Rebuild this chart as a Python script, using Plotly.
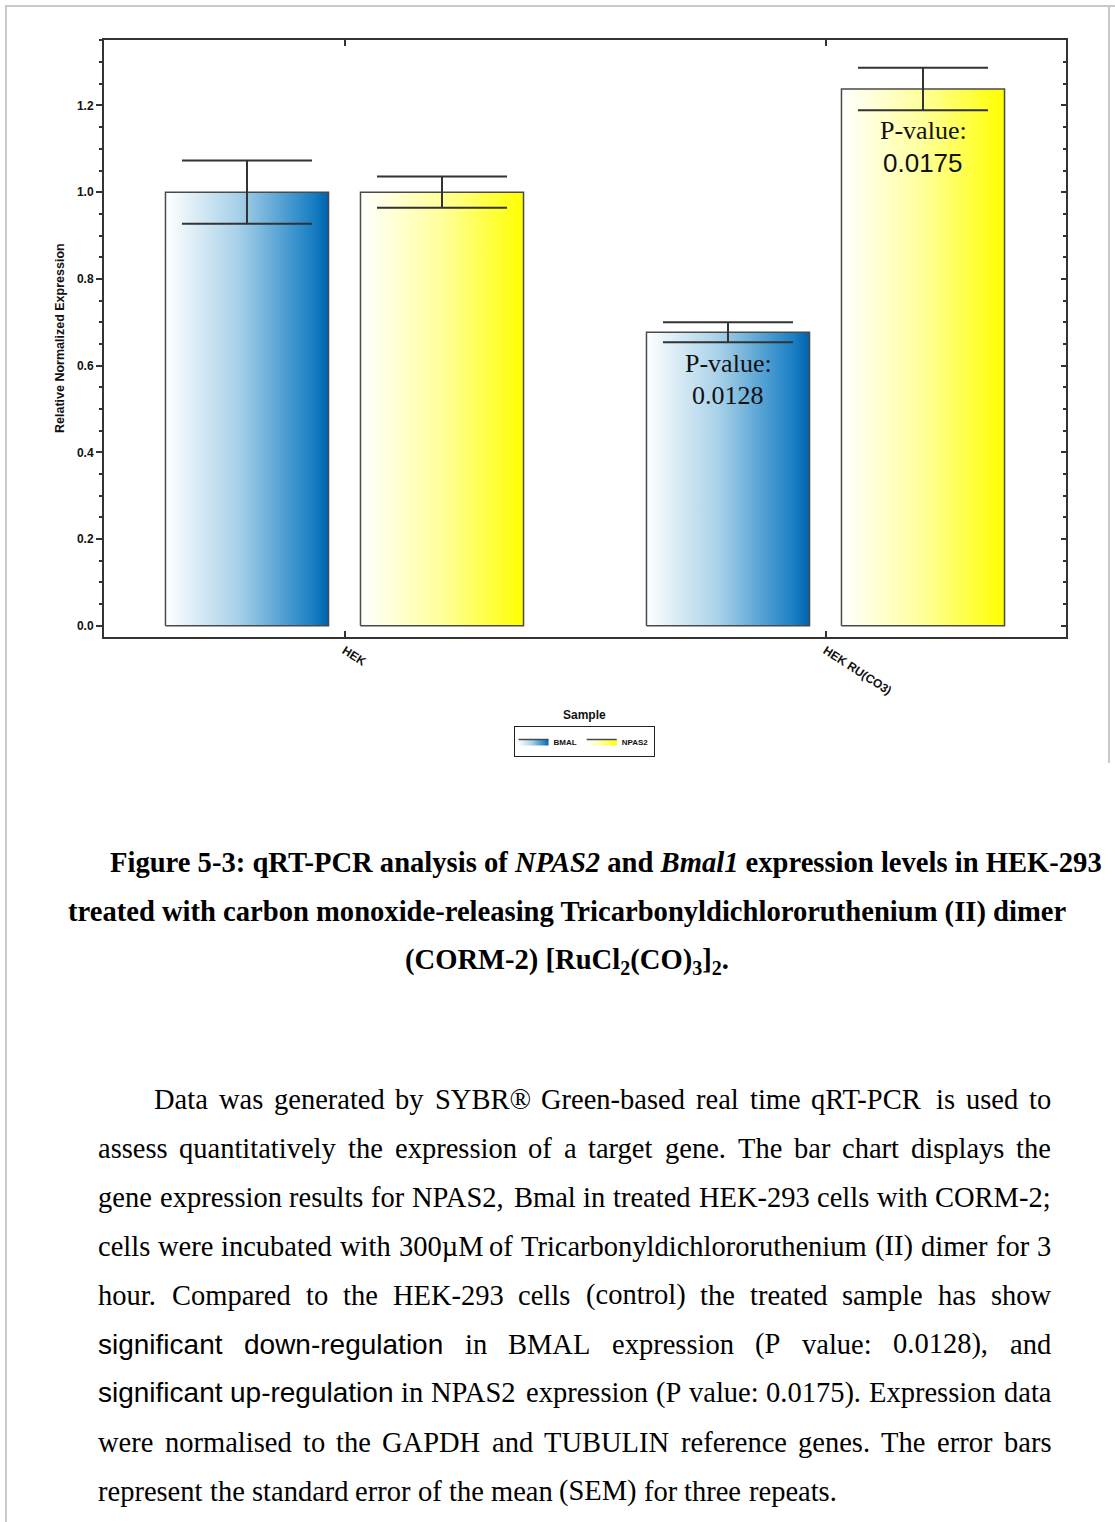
import plotly.graph_objects as go

# ---------------- data ----------------
categories = ["HEK", "HEK RU(CO3)"]
series_names = ["BMAL", "NPAS2"]
bmal_values = [1.0, 0.677]
bmal_sem = [0.073, 0.023]
npas2_values = [1.0, 1.238]
npas2_sem = [0.036, 0.049]
bmal_pvalues = [None, "0.0128"]
npas2_pvalues = [None, "0.0175"]
y_tick_values = [0.0, 0.2, 0.4, 0.6, 0.8, 1.0, 1.2]

# ---------------- page geometry (px) ----------------
W, H = 1115, 1522
PLOT_L, PLOT_R, PLOT_T, PLOT_B = 104, 1066, 40, 637


def px_x(px):
    return (px - PLOT_L) / (PLOT_R - PLOT_L)


def px_y(py):
    return (PLOT_B - py) / (PLOT_B - PLOT_T)


GROUP_OFFSET = 0.2027   # distance of each bar centre from its category
BAR_HALF = 0.1695       # half bar width in category units

series = [
    dict(name="BMAL", values=bmal_values, sem=bmal_sem, pv=bmal_pvalues, off=-GROUP_OFFSET,
         scale=[[0, "#ffffff"], [0.45, "#a6d0e8"], [0.9, "#1a80c4"], [1, "#0062ae"]],
         pv_font="Liberation Serif", pv_shift=(-31, -63)),
    dict(name="NPAS2", values=npas2_values, sem=npas2_sem, pv=npas2_pvalues, off=GROUP_OFFSET,
         scale=[[0, "#ffffff"], [0.5, "#ffff9a"], [1, "#ffff00"]],
         pv_font="Liberation Sans", pv_shift=(-42, -74)),
]

fig = go.Figure()

annotations = []

for s in series:
    for i, v in enumerate(s["values"]):
        xc = i + s["off"]
        x0, x1 = xc - BAR_HALF, xc + BAR_HALF
        fig.add_trace(go.Scatter(
            x=[x0, x0, x1, x1, x0], y=[0, v, v, 0, 0],
            mode="lines", fill="toself",
            fillgradient=dict(type="horizontal", colorscale=s["scale"]),
            line=dict(color="#4a4a4a", width=1.5),
            name=s["name"], legendgroup=s["name"], showlegend=(i == 0),
            hoverinfo="skip",
        ))
    # error bars (SEM)
    fig.add_trace(go.Scatter(
        x=[i + s["off"] for i in range(len(categories))], y=s["values"],
        mode="markers", marker=dict(size=1, color="rgba(0,0,0,0)"),
        error_y=dict(type="data", array=s["sem"], color="#333333", thickness=2, width=65),
        showlegend=False, hoverinfo="skip",
    ))
    # p-value labels inside the bars
    for i, pv in enumerate(s["pv"]):
        if pv is None:
            continue
        xc = i + s["off"]
        annotations.append(dict(x=xc, y=s["values"][i], xref="x", yref="y", text="P-value:",
                                showarrow=False, xanchor="center", yanchor="middle",
                                yshift=s["pv_shift"][0],
                                font=dict(family="Liberation Serif", size=26, color="#111")))
        annotations.append(dict(x=xc, y=s["values"][i], xref="x", yref="y", text=pv,
                                showarrow=False, xanchor="center", yanchor="middle",
                                yshift=s["pv_shift"][1],
                                font=dict(family=s["pv_font"], size=26, color="#111")))

# right-hand axis carrying the inward tick marks
fig.add_trace(go.Scatter(x=[0], y=[0], yaxis="y2", mode="markers",
                         marker=dict(size=1, color="rgba(0,0,0,0)"),
                         showlegend=False, hoverinfo="skip"))

y_range = [-0.026, 1.351]

fig.update_layout(
    width=W, height=H,
    margin=dict(l=PLOT_L, r=W - PLOT_R, t=PLOT_T, b=H - PLOT_B, pad=0),
    paper_bgcolor="white", plot_bgcolor="white",
    font=dict(family="Liberation Sans", color="#111"),
    xaxis=dict(range=[-0.5, 1.5], tickvals=list(range(len(categories))), ticktext=categories,
               tickangle=33, tickfont=dict(size=12, weight="bold", color="#111"),
               ticks="inside", ticklen=6, tickcolor="#333", tickwidth=1.5,
               showline=True, linecolor="#333", linewidth=2, mirror="ticks",
               showgrid=False, zeroline=False),
    yaxis=dict(range=y_range, tickvals=y_tick_values, tickformat=".1f",
               tickfont=dict(size=12, weight="bold", color="#111"),
               ticks="outside", ticklen=6, tickcolor="#333", tickwidth=1.5,
               minor=dict(dtick=0.05, tick0=0, ticks="outside", ticklen=3, tickcolor="#333", tickwidth=2),
               showline=True, linecolor="#333", linewidth=2, mirror=True,
               showgrid=False, zeroline=False),
    yaxis2=dict(range=y_range, overlaying="y", side="right", tickvals=y_tick_values,
                showticklabels=False, ticks="inside", ticklen=5, tickcolor="#333", tickwidth=1.5,
                minor=dict(dtick=0.05, tick0=0, ticks="inside", ticklen=3, tickcolor="#333", tickwidth=2),
                showline=False, showgrid=False, zeroline=False),
    legend=dict(orientation="h", x=px_x(584), xanchor="center", y=px_y(726), yanchor="top",
                bordercolor="#222", borderwidth=1, bgcolor="white",
                font=dict(family="Liberation Sans Narrow, Liberation Sans", size=8, weight="bold"),
                itemwidth=30, tracegroupgap=0),
    showlegend=True,
)

# axis titles
annotations.append(dict(x=px_x(60), y=px_y(338), xref="paper", yref="paper",
                        text="Relative Normalized Expression", textangle=-90, showarrow=False,
                        xanchor="center", yanchor="middle",
                        font=dict(size=12.5, weight="bold", color="#111")))
annotations.append(dict(x=px_x(584), y=px_y(715), xref="paper", yref="paper", text="Sample",
                        showarrow=False, xanchor="center", yanchor="middle",
                        font=dict(size=12, weight="bold", color="#111")))

# ---------------- figure caption ----------------
cap_font = dict(family="Liberation Serif", size=28.6, color="#000")
caption_lines = [
    ("<b>Figure 5-3: qRT-PCR analysis of <i>NPAS2</i> and <i>Bmal1</i> expression levels in HEK-293</b>", 108, "left", 862),
    ("<b>treated with carbon monoxide-releasing Tricarbonyldichlororuthenium (II) dimer</b>", 567, "center", 912),
    ("<b>(CORM-2) [RuCl<sub>2</sub>(CO)<sub>3</sub>]<sub>2</sub>.</b>", 567, "center", 961),
]
for text, xp, anchor, yp in caption_lines:
    annotations.append(dict(x=px_x(xp), y=px_y(yp), xref="paper", yref="paper", text=text,
                            xanchor=anchor, yanchor="middle", showarrow=False, font=cap_font))

# ---------------- body paragraph (justified word by word) ----------------
SERIF = {
    " ": 250, "a": 444, "b": 500, "c": 444, "d": 500, "e": 444, "f": 333, "g": 500, "h": 500,
    "i": 278, "j": 278, "k": 500, "l": 278, "m": 778, "n": 500, "o": 500, "p": 500, "q": 500,
    "r": 333, "s": 389, "t": 278, "u": 500, "v": 500, "w": 722, "x": 500, "y": 500, "z": 444,
    "A": 722, "B": 667, "C": 667, "D": 722, "E": 611, "F": 556, "G": 722, "H": 722, "I": 333,
    "J": 389, "K": 722, "L": 611, "M": 889, "N": 722, "O": 722, "P": 556, "Q": 722, "R": 667,
    "S": 556, "T": 611, "U": 722, "V": 722, "W": 944, "X": 722, "Y": 722, "Z": 611,
    ".": 250, ",": 250, ":": 278, ";": 278, "-": 333, "(": 333, ")": 333, "®": 760, "µ": 500,
}
SANS = {
    " ": 278, "a": 556, "b": 556, "c": 500, "d": 556, "e": 556, "f": 278, "g": 556, "h": 556,
    "i": 222, "j": 222, "k": 500, "l": 222, "m": 833, "n": 556, "o": 556, "p": 556, "q": 556,
    "r": 333, "s": 500, "t": 278, "u": 556, "v": 500, "w": 722, "x": 500, "y": 500, "z": 500,
    "-": 333,
}
BODY_SERIF = ("Liberation Serif", 28.5, SERIF)
BODY_SANS = ("Liberation Sans", 28, SANS)


def text_width(word, face):
    _, size, table = face
    return sum(table.get(ch, 500) for ch in word) / 1000 * size


body_lines = [
    ([("Data was generated by SYBR® Green-based real time qRT-PCR is used to", BODY_SERIF)], 153, True),
    ([("assess quantitatively the expression of a target gene. The bar chart displays the", BODY_SERIF)], 97, True),
    ([("gene expression results for NPAS2, Bmal in treated HEK-293 cells with CORM-2;", BODY_SERIF)], 97, True),
    ([("cells were incubated with 300µM of Tricarbonyldichlororuthenium (II) dimer for 3", BODY_SERIF)], 97, True),
    ([("hour. Compared to the HEK-293 cells (control) the treated sample has show", BODY_SERIF)], 97, True),
    ([("significant down-regulation", BODY_SANS),
      ("in BMAL expression (P value: 0.0128), and", BODY_SERIF)], 97, True),
    ([("significant up-regulation", BODY_SANS),
      ("in NPAS2 expression (P value: 0.0175). Expression data", BODY_SERIF)], 97, True),
    ([("were normalised to the GAPDH and TUBULIN reference genes. The error bars", BODY_SERIF)], 97, True),
    ([("represent the standard error of the mean (SEM) for three repeats.", BODY_SERIF)], 97, False),
]
BODY_RIGHT = 1050
BODY_TOP = 1099
BODY_STEP = 49

for li, (segments, left, justify) in enumerate(body_lines):
    words = []
    for seg_text, face in segments:
        for w in seg_text.split(" "):
            words.append((w, face))
    widths = [text_width(w, f) for w, f in words]
    if justify and len(words) > 1:
        gap = (BODY_RIGHT - left - sum(widths)) / (len(words) - 1)
    else:
        gap = SERIF[" "] / 1000 * BODY_SERIF[1]
    xpos = left
    yp = BODY_TOP + li * BODY_STEP
    for (w, face), wd in zip(words, widths):
        annotations.append(dict(x=px_x(xpos), y=px_y(yp), xref="paper", yref="paper", text=w,
                                xanchor="left", yanchor="middle", showarrow=False, borderpad=0,
                                font=dict(family=face[0], size=face[1], color="#000")))
        xpos += wd + gap

fig.update_layout(annotations=annotations)

# ---------------- page frame ----------------
frame = dict(color="#c8c8c8", width=2)
fig.add_shape(type="line", xref="paper", yref="paper", x0=px_x(5), x1=px_x(1115),
              y0=px_y(6), y1=px_y(6), line=frame)
fig.add_shape(type="line", xref="paper", yref="paper", x0=px_x(6), x1=px_x(6),
              y0=px_y(6), y1=px_y(1522), line=frame)
fig.add_shape(type="line", xref="paper", yref="paper", x0=px_x(1109), x1=px_x(1109),
              y0=px_y(6), y1=px_y(763), line=frame)

fig.write_html("out.html")
